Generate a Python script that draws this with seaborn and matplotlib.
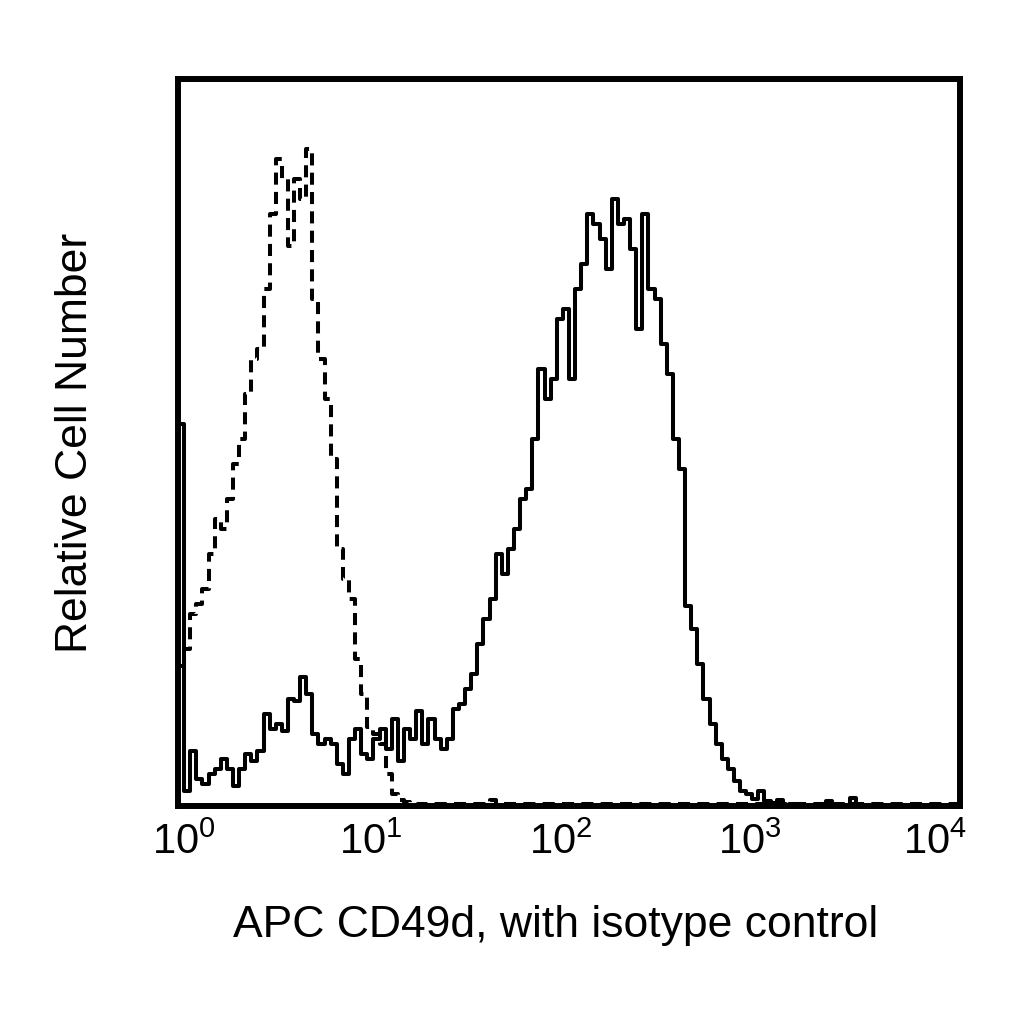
import matplotlib
matplotlib.use("Agg")
import matplotlib.pyplot as plt
import matplotlib.transforms as mtransforms
import seaborn as sns
import numpy as np

# channel counts, 32 log channels per decade from 10^0 to 10^4
cd49d_counts = [
    382, 15, 55, 27, 22, 32, 37, 47, 37, 20,
    37, 52, 45, 55, 92, 77, 82, 75, 107, 105,
    129, 112, 72, 62, 67, 62, 42, 32, 67, 77,
    52, 47, 67, 77, 57, 87, 45, 77, 67, 95,
    62, 87, 67, 57, 67, 97, 102, 117, 132, 162,
    187, 207, 252, 232, 257, 277, 307, 317, 367, 437,
    407, 427, 487, 497, 427, 517, 542, 592, 582, 567,
    537, 607, 582, 587, 557, 477, 592, 517, 507, 462,
    432, 367, 337, 200, 177, 142, 107, 82, 62, 47,
    37, 25, 15, 12, 7, 15, 5, 3, 6, 0,
    2, 0, 0, 0, 0, 0, 5, 0, 0, 0,
    8, 0, 0, 0, 0, 0, 0, 0, 0, 0,
    0, 0, 0, 0, 0, 0, 0, 0,
]

isotype_counts = [
    140, 157, 192, 202, 217, 252, 287, 277, 307, 342,
    367, 412, 447, 457, 517, 592, 647, 627, 560, 627,
    607, 657, 507, 447, 407, 347, 257, 227, 207, 147,
    112, 79, 72, 62, 32, 12, 6, 4, 3, 2,
    2, 2, 2, 2, 2, 2, 2, 2, 2, 2,
    2, 6, 2, 2, 2, 2, 2, 2, 2, 2,
    2, 2, 2, 2, 2, 2, 2, 2, 2, 2,
    2, 2, 2, 2, 2, 2, 2, 2, 2, 2,
    2, 2, 2, 2, 2, 2, 2, 2, 2, 2,
    2, 2, 2, 2, 2, 2, 2, 2, 2, 2,
    2, 2, 2, 2, 2, 2, 2, 2, 2, 2,
    2, 2, 2, 2, 2, 2, 2, 2, 2, 2,
    2, 2, 2, 2, 2, 2, 2, 2,
]

decade_ticks = [1, 10, 100, 1000, 10000]
# the printed labels sit a little off their decades in the original figure
label_shift_px = [6, -3, -8, -15, -25]

sns.set_style("white")
plt.rcParams["font.family"] = ["Liberation Sans", "DejaVu Sans"]
plt.rcParams["text.color"] = "black"
plt.rcParams["axes.labelcolor"] = "black"
plt.rcParams["xtick.color"] = "black"

n_channels = len(cd49d_counts)
edges = np.logspace(0, 4, n_channels + 1)

fig = plt.figure(figsize=(10.24, 10.24), dpi=100)
ax = fig.add_axes([0.1738, 0.2129, 0.7637, 0.7095])

# isotype control as dashed step line, CD49d as solid step line
sns.lineplot(x=edges, y=np.append(isotype_counts, isotype_counts[-1]), ax=ax,
             color="black", linewidth=2.9, linestyle=(0, (3.0, 1.8)),
             drawstyle="steps-post", estimator=None, sort=False)
sns.lineplot(x=edges, y=np.append(cd49d_counts, cd49d_counts[-1]), ax=ax,
             color="black", linewidth=2.9, drawstyle="steps-post",
             estimator=None, sort=False)

ax.set_xscale("log")
ax.set_xlim(1, 10000)
ax.set_ylim(0, 727)
ax.set_xticks(decade_ticks)
ax.xaxis.set_minor_locator(matplotlib.ticker.NullLocator())
ax.set_yticks([])
ax.tick_params(axis="x", length=0, pad=12, labelsize=30, labelcolor="black")

for lab, dx in zip(ax.get_xticklabels(), label_shift_px):
    lab.set_transform(lab.get_transform() +
                      mtransforms.ScaledTranslation(dx / 100, 0, fig.dpi_scale_trans))

for side in ax.spines.values():
    side.set_linewidth(4.3)
    side.set_color("black")

ax.set_xlabel("APC CD49d, with isotype control", fontsize=32, labelpad=30)
ax.xaxis.label.set_x(0.483)
ax.set_ylabel("Relative Cell Number", fontsize=32, labelpad=59)

fig.savefig("out.png", dpi=100)
